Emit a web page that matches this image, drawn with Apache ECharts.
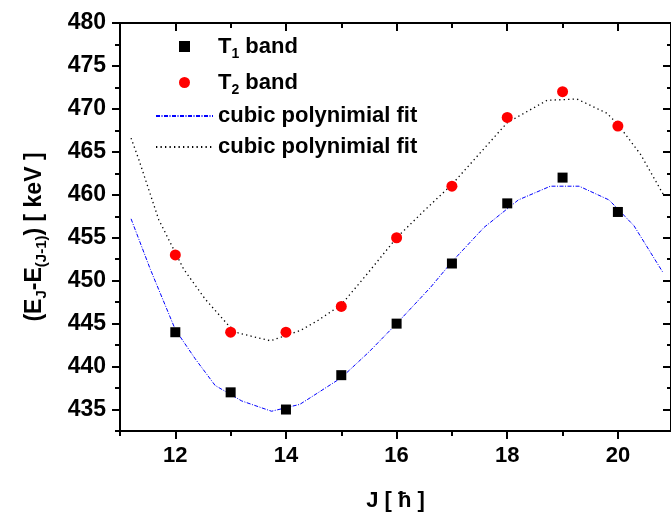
<!DOCTYPE html>
<html>
<head>
<meta charset="utf-8">
<script src="https://cdn.jsdelivr.net/npm/echarts@6/dist/echarts.min.js"></script>
<style>
  html, body { margin: 0; padding: 0; background: #fff; }
  #chart { width: 671px; height: 517px; }
</style>
</head>
<body>
<div id="chart"></div>
<script>
// measured points
const jValues = [12, 13, 14, 15, 16, 17, 18, 19, 20];
const t1Band = [444, 437, 435, 439, 445, 452, 459, 462, 458];
const t2Band = [453, 444, 444, 447, 455, 461, 469, 472, 468];

// fit curves
const fit1J = [11.2, 11.55, 12.0, 12.36, 12.72, 13.2, 13.74, 14.25, 14.47, 15.0, 15.5, 16.0, 16.61, 17.0, 17.58, 18.2, 18.78, 19.3, 19.84, 20.29, 20.82];
const fit1E = [457.2, 451.3, 444.3, 440.9, 437.8, 436.0, 434.8, 435.6, 436.5, 438.7, 441.7, 445.0, 449.2, 452.2, 456.2, 459.4, 461.0, 461.0, 459.4, 456.4, 450.9];
const fit2J = [11.2, 11.34, 11.7, 12.15, 12.54, 12.96, 13.14, 13.72, 14.26, 14.56, 15.0, 15.47, 16.0, 16.49, 17.0, 18.0, 18.72, 19.26, 19.8, 20.0, 20.41, 20.82];
const fit2E = [466.6, 464.1, 457.1, 451.35, 447.85, 444.8, 443.9, 443.0, 444.2, 445.3, 447.2, 450.8, 455.0, 458.1, 461.2, 468.4, 471.0, 471.15, 469.5, 468.2, 464.7, 460.05];

// ticks
const xMajor = [12, 14, 16, 18, 20];
const xMinor = [11, 13, 15, 17, 19];
const yMajor = [435, 440, 445, 450, 455, 460, 465, 470, 475, 480];
const yMinor = [432.5, 437.5, 442.5, 447.5, 452.5, 457.5, 462.5, 467.5, 472.5, 477.5];

const X_MIN = 11, X_MAX = 20.96, Y_MIN = 432.5, Y_MAX = 480;
const FONT = "Liberation Sans";

const legendNames = {
  t1: "T{sub|1} band",
  t2: "T{sub|2} band",
  fit1: "cubic polynimial fit",
  fit2: "cubic polynimial fit"
};

function pairs(xs, ys) {
  return xs.map((x, i) => [x, ys[i]]);
}

function xAxisOf(pos, ticks, len, inside, withLine, withLabel) {
  return {
    type: "value",
    position: pos,
    min: X_MIN,
    max: X_MAX,
    axisLine: { show: withLine, onZero: false, lineStyle: { color: "#000", width: 2 } },
    axisTick: { show: true, inside: inside, length: len, customValues: ticks, lineStyle: { color: "#000", width: 2 } },
    axisLabel: withLabel ? {
      customValues: ticks,
      margin: 14,
      color: "#000",
      fontFamily: FONT,
      fontWeight: "bold",
      fontSize: 22
    } : { show: false },
    splitLine: { show: false }
  };
}

function yAxisOf(pos, ticks, len, inside, withLine, withLabel) {
  return {
    type: "value",
    position: pos,
    min: Y_MIN,
    max: Y_MAX,
    axisLine: { show: withLine, onZero: false, lineStyle: { color: "#000", width: 2 } },
    axisTick: { show: true, inside: inside, length: len, customValues: ticks, lineStyle: { color: "#000", width: 2 } },
    axisLabel: withLabel ? {
      customValues: ticks,
      margin: 14,
      color: "#000",
      fontFamily: FONT,
      fontWeight: "bold",
      fontSize: 23
    } : { show: false },
    splitLine: { show: false }
  };
}

const chart = echarts.init(document.getElementById("chart"));

const xMain = xAxisOf("bottom", xMajor, 8, false, true, true);
xMain.name = "J [ ħ ]";
xMain.nameLocation = "middle";
xMain.nameGap = 59;
xMain.nameTextStyle = { color: "#000", fontFamily: FONT, fontWeight: "bold", fontSize: 22 };

const yMain = yAxisOf("left", yMajor, 8, false, true, true);
yMain.name = "(E{sub|J}-E{sub|(J-1)}) [ keV ]";
yMain.nameLocation = "middle";
yMain.nameGap = 97;
yMain.nameTextStyle = {
  color: "#000",
  fontFamily: FONT,
  fontWeight: "bold",
  fontSize: 23,
  lineHeight: 24,
  verticalAlign: "top",
  padding: [0, 20, 0, 0],
  rich: {
    sub: { fontFamily: FONT, fontWeight: "bold", fontSize: 15, lineHeight: 15, padding: [13, 0, 0, 0], color: "#000" }
  }
};

const plainIcon = "path://M0,0L10,0L10,10L0,10Z";

chart.setOption({
  backgroundColor: "#fff",
  animation: false,
  grid: { left: 120, right: 0, top: 23, bottom: 84 },
  legend: {
    orient: "vertical",
    left: 150,
    top: 27,
    itemWidth: 57,
    itemHeight: 11,
    itemGap: 7,
    data: [
      { name: "t1", icon: plainIcon },
      { name: "t2", icon: "circle" },
      { name: "fit1", itemStyle: { opacity: 0 } },
      { name: "fit2", itemStyle: { opacity: 0 } }
    ],
    formatter: (name) => legendNames[name],
    textStyle: {
      color: "#000",
      fontFamily: FONT,
      fontWeight: "bold",
      fontSize: 22,
      lineHeight: 24,
      verticalAlign: "top",
      rich: {
        sub: { fontFamily: FONT, fontWeight: "bold", fontSize: 14, lineHeight: 14, padding: [15, 0, 0, 0], color: "#000" }
      }
    }
  },
  xAxis: [
    xMain,
    xAxisOf("bottom", xMinor, 5, false, false, false),
    xAxisOf("top", xMajor, 8, true, true, false),
    xAxisOf("top", xMinor, 5, true, false, false)
  ],
  yAxis: [
    yMain,
    yAxisOf("left", yMinor, 5, false, false, false),
    yAxisOf("right", yMajor, 8, true, true, false),
    yAxisOf("right", yMinor, 4, true, false, false)
  ],
  series: [
    {
      name: "fit1",
      type: "line",
      data: pairs(fit1J, fit1E),
      symbol: "none",
      lineStyle: { color: "#0000ff", width: 1, type: [4, 1.5, 1, 1.5] },
      itemStyle: { color: "#0000ff" },
      z: 2
    },
    {
      name: "fit2",
      type: "line",
      data: pairs(fit2J, fit2E),
      symbol: "none",
      lineStyle: { color: "#000", width: 1.3, type: [1.3, 3.2] },
      itemStyle: { color: "#000" },
      z: 2
    },
    {
      name: "t1",
      type: "scatter",
      data: pairs(jValues, t1Band),
      symbol: "rect",
      symbolSize: 10,
      itemStyle: { color: "#000", opacity: 1 },
      z: 3
    },
    {
      name: "t2",
      type: "scatter",
      data: pairs(jValues, t2Band),
      symbol: "circle",
      symbolSize: 11,
      itemStyle: { color: "#ff0000", opacity: 1 },
      z: 3
    }
  ]
});
</script>
</body>
</html>
